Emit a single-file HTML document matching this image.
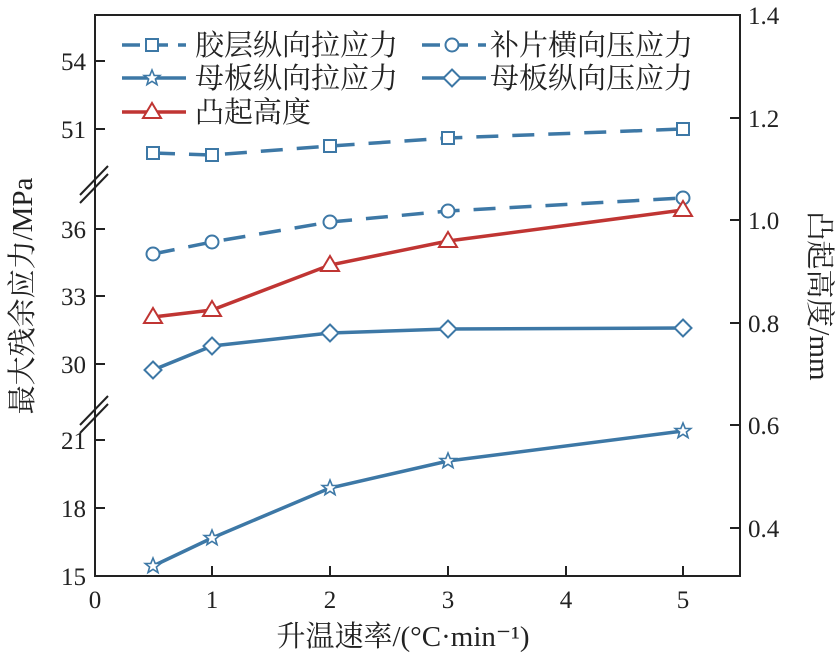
<!DOCTYPE html>
<html><head><meta charset="utf-8"><style>body{margin:0;background:#fff}svg{display:block}text{font-family:"Liberation Serif","Noto Serif CJK SC",serif;fill:#222}</style></head><body>
<svg width="838" height="656" viewBox="0 0 838 656" xmlns="http://www.w3.org/2000/svg">
<defs>
<g id="sq"><rect x="-6" y="-6" width="12" height="12" fill="#fff" stroke="#3d78a6" stroke-width="2"/></g>
<g id="ci"><circle r="6.5" fill="#fff" stroke="#3d78a6" stroke-width="2"/></g>
<g id="di"><polygon points="0,-8.5 8.5,0 0,8.5 -8.5,0" fill="#fff" stroke="#3d78a6" stroke-width="2"/></g>
<g id="tr"><polygon points="0,-9 9,6 -9,6" fill="#fff" stroke="#c03533" stroke-width="2"/></g>
<g id="st"><polygon points="0,-8 2.2,-2.6 7.8,-2.5 3.4,1 5,6.5 0,3.3 -5,6.5 -3.4,1 -7.8,-2.5 -2.2,-2.6" fill="#fff" stroke="#3d78a6" stroke-width="1.6"/></g>
</defs>
<g stroke="#222" stroke-width="2" fill="none">
<rect x="95" y="15" width="645" height="561"/>
<path d="M95 61h10M95 129h10M95 229h10M95 296h10M95 364h10M95 440h10M95 508h10"/>
<path d="M740 118h-10M740 220h-10M740 323h-10M740 425h-10M740 528h-10"/>
<path d="M212 576v-10M330 576v-10M448 576v-10M566 576v-10M683 576v-10"/>
<path d="M80 195L108 166M80 203L108 174M80 425L108 396M80 433L108 404"/>
</g>
<g font-size="25" text-anchor="end">
<text x="86" y="70">54</text><text x="86" y="138">51</text><text x="86" y="238">36</text><text x="86" y="305">33</text><text x="86" y="373">30</text><text x="86" y="449">21</text><text x="86" y="517">18</text><text x="86" y="585">15</text>
</g>
<g font-size="25">
<text x="748" y="24">1.4</text><text x="748" y="127">1.2</text><text x="748" y="229">1.0</text><text x="748" y="332">0.8</text><text x="748" y="434">0.6</text><text x="748" y="537">0.4</text>
</g>
<g font-size="25" text-anchor="middle">
<text x="95" y="608">0</text><text x="212" y="608">1</text><text x="330" y="608">2</text><text x="448" y="608">3</text><text x="566" y="608">4</text><text x="683" y="608">5</text>
</g>
<text font-size="29" x="403" y="646" text-anchor="middle">升温速率/(°C·min⁻¹)</text>
<text font-size="29" text-anchor="middle" transform="translate(32 296) rotate(-90)">最大残余应力/MPa</text>
<text font-size="29" text-anchor="middle" transform="translate(810 296) rotate(90)">凸起高度/mm</text>
<g fill="none" stroke-width="3.5">
<polyline stroke="#3d78a6" stroke-dasharray="22,14" points="153,153 212,155 330,146 448,138 683,129"/>
<polyline stroke="#3d78a6" stroke-dasharray="22,14" points="153,254 212,242 330,222 448,211 683,198"/>
<polyline stroke="#c03533" points="153,317 212,310 330,265 448,241 683,210"/>
<polyline stroke="#3d78a6" points="153,370 212,346 330,333 448,329 683,328"/>
<polyline stroke="#3d78a6" points="153,566 212,538 330,488 448,461 683,431"/>
<path stroke="#3d78a6" stroke-dasharray="18,10" d="M122 45h64M422 45h64"/>
<path stroke="#3d78a6" d="M122 78h64M422 78h64"/>
<path stroke="#c03533" d="M122 112h64"/>
</g>
<use href="#sq" x="153" y="153"/><use href="#sq" x="212" y="155"/><use href="#sq" x="330" y="146"/><use href="#sq" x="448" y="138"/><use href="#sq" x="683" y="129"/>
<use href="#ci" x="153" y="254"/><use href="#ci" x="212" y="242"/><use href="#ci" x="330" y="222"/><use href="#ci" x="448" y="211"/><use href="#ci" x="683" y="198"/>
<use href="#tr" x="153" y="317"/><use href="#tr" x="212" y="310"/><use href="#tr" x="330" y="265"/><use href="#tr" x="448" y="241"/><use href="#tr" x="683" y="210"/>
<use href="#di" x="153" y="370"/><use href="#di" x="212" y="346"/><use href="#di" x="330" y="333"/><use href="#di" x="448" y="329"/><use href="#di" x="683" y="328"/>
<use href="#st" x="153" y="566"/><use href="#st" x="212" y="538"/><use href="#st" x="330" y="488"/><use href="#st" x="448" y="461"/><use href="#st" x="683" y="431"/>
<use href="#sq" x="152" y="45"/><use href="#ci" x="452" y="45"/><use href="#st" x="152" y="78"/><use href="#di" x="452" y="78"/><use href="#tr" x="152" y="112"/>
<g font-size="29">
<text x="195" y="55">胶层纵向拉应力</text><text x="490" y="55">补片横向压应力</text>
<text x="195" y="88">母板纵向拉应力</text><text x="490" y="88">母板纵向压应力</text>
<text x="195" y="122">凸起高度</text>
</g>
</svg>
</body></html>
